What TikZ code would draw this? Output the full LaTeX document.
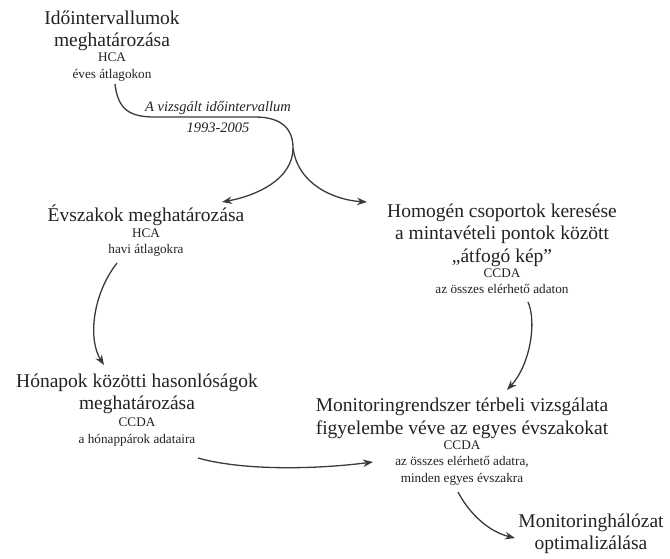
\documentclass[tikz,border=0pt]{standalone}
\usepackage{fontspec}
\setmainfont{Liberation Serif}
\usetikzlibrary{arrows.meta}
\definecolor{txt}{HTML}{222222}
\definecolor{ln}{HTML}{3A3A3A}
\newcommand\bigf{\fontsize{19.5}{22.5}\selectfont}
\newcommand\smf{\fontsize{13.2}{16.3}\selectfont}
\newcommand\itf{\fontsize{14.5}{21}\selectfont\itshape}
\begin{document}
\begin{tikzpicture}[x=1pt,y=-1pt,
  ttl/.style={align=center,font=\bigf,inner sep=0pt,text=txt},
  sub/.style={align=center,font=\smf,inner sep=0pt,text=txt},
  lbl/.style={align=center,font=\itf,inner sep=0pt,text=txt},
  conn/.style={draw=ln,line width=1.3pt},
  arr/.style={conn,-{Stealth[length=10pt,width=7.5pt]}}]
\useasboundingbox (0,0) rectangle (670,558);
% nodes
\node[ttl] (t1) at (112,31) {Időintervallumok\\meghatározása};
\node[sub] (t1s) at (112,67) {HCA\\éves átlagokon};
\node[lbl] (lab) at (218,117) {A vizsgált időintervallum\\1993-2005};
\node[ttl] (ev) at (146,215) {Évszakok meghatározása};
\node[sub] (evs) at (146,242.5) {HCA\\havi átlagokra};
\node[ttl] (ho) at (502,235) {Homogén csoportok keresése\\a mintavételi pontok között\\„átfogó kép”};
\node[sub] (hos) at (502,281) {CCDA\\az összes elérhető adaton};
\node[ttl] (hn) at (137,394) {Hónapok közötti hasonlóságok\\meghatározása};
\node[sub] (hns) at (137,432) {CCDA\\a hónappárok adataira};
\node[ttl] (mr) at (462,418.5) {Monitoringrendszer térbeli vizsgálata\\figyelembe véve az egyes évszakokat};
\node[sub] (mrs) at (462,463) {CCDA\\az összes elérhető adatra,\\minden egyes évszakra};
\node[ttl] (mh) at (591,534) {Monitoringhálózat\\optimalizálása};
% connector points
\coordinate (c1) at (115,84);
\coordinate (sp) at (293,148);
\coordinate (e1) at (222,202);
\coordinate (e2) at (367,202);
\coordinate (c3) at (117,263);
\coordinate (e3) at (104,365);
\coordinate (c4) at (528,302);
\coordinate (e4) at (507,390);
\coordinate (c5) at (198,458);
\coordinate (e5) at (373,462);
\coordinate (c6) at (458,492);
\coordinate (e6) at (515,538);
% connectors
\draw[conn] (c1) .. controls (118,110) and (130,117) .. (155,117) -- (255,117) .. controls (283,117) and (293,130) .. (sp);
\draw[arr] (sp) .. controls (293,180) and (255,196) .. (e1);
\draw[arr] (sp) .. controls (298,185) and (335,200) .. (e2);
\draw[arr] (c3) .. controls (92,295) and (88,340) .. (e3);
\draw[arr] (c4) .. controls (537,322) and (530,365) .. (e4);
\draw[arr] (c5) .. controls (240,470) and (310,470) .. (e5);
\draw[arr] (c6) .. controls (470,515) and (490,532) .. (e6);
\end{tikzpicture}
\end{document}
